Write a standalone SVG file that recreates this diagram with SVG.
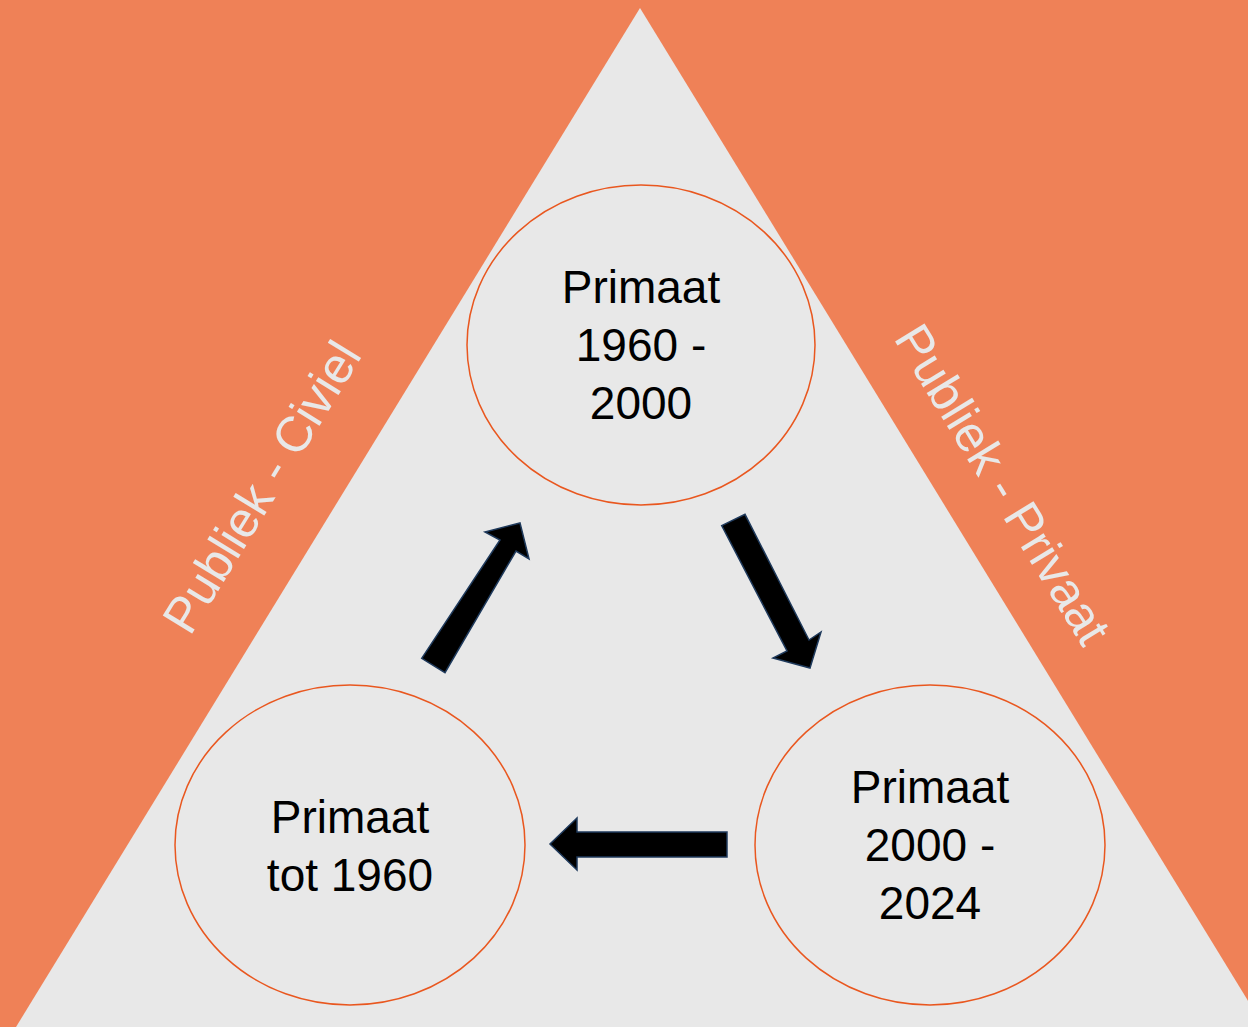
<svg xmlns="http://www.w3.org/2000/svg" width="1248" height="1027" viewBox="0 0 1248 1027">
<style>
.node ellipse{fill:#E8E8E8;stroke:#E9571F;stroke-width:1.5}
.lbl{font-family:"Liberation Sans",Arial,sans-serif;font-size:46px;fill:#000;text-anchor:middle}
.side{font-family:"Liberation Sans",Arial,sans-serif;font-size:50px;fill:#E8E8E8}
.arr{fill:#000;stroke:#1F3A5C;stroke-width:1.5;stroke-linejoin:miter}
</style>
<rect x="0" y="0" width="1248" height="1027" fill="#EF8157"/>
<polygon points="640,8 16,1027 1264,1027" fill="#E8E8E8"/>
<text class="side" transform="translate(190,637) rotate(-58.5)">Publiek - Civiel</text>
<text class="side" transform="translate(893,338) rotate(58.5)">Publiek - Privaat</text>
<g id="connectors">
<polygon class="arr" points="421.7,658.3 500,540 485,532 520,523 529,559 516,551 445,672.7"/>
<polygon class="arr" points="721.7,525.7 745,514.3 809,640 821,632 810,668 773,658 787,651"/>
<polygon class="arr" points="727,832 577,832 577,818 550,844 577,870 577,857 727,857"/>
</g>
<g id="node-top" class="node">
<ellipse cx="641" cy="345" rx="174" ry="160"/>
<text class="lbl" x="641" y="303">Primaat</text>
<text class="lbl" x="641" y="361">1960 -</text>
<text class="lbl" x="641" y="419">2000</text>
</g>
<g id="node-left" class="node">
<ellipse cx="350" cy="845" rx="175" ry="160"/>
<text class="lbl" x="350" y="833">Primaat</text>
<text class="lbl" x="350" y="891">tot 1960</text>
</g>
<g id="node-right" class="node">
<ellipse cx="930" cy="845" rx="175" ry="160"/>
<text class="lbl" x="930" y="803">Primaat</text>
<text class="lbl" x="930" y="861">2000 -</text>
<text class="lbl" x="930" y="919">2024</text>
</g>
</svg>
